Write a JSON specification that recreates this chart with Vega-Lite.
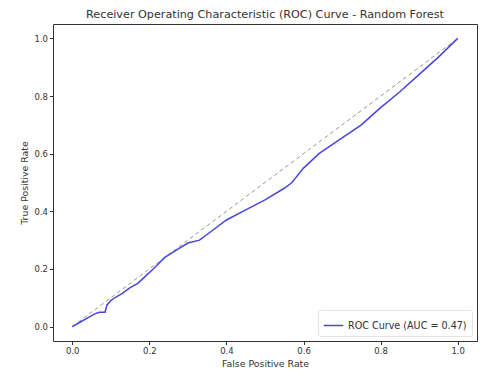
{
  "$schema": "https://vega.github.io/schema/vega-lite/v6.json",
  "width": 424,
  "height": 317,
  "autosize": {"type": "none"},
  "padding": {"left": 53, "top": 24, "right": 6, "bottom": 35},
  "background": "white",
  "config": {
    "font": "DejaVu Sans",
    "view": {"stroke": "#333333", "strokeWidth": 1},
    "axis": {"grid": false, "domain": false, "tickColor": "#333333", "tickSize": 3.5, "labelFontSize": 8.5, "labelColor": "#333333", "titleFontSize": 9.4, "titleFontWeight": "normal", "titleColor": "#333333", "labelFont": "DejaVu Sans", "titleFont": "DejaVu Sans", "titlePadding": 4}
  },
  "title": {"text": "Receiver Operating Characteristic (ROC) Curve - Random Forest", "fontSize": 11.2, "fontWeight": "normal", "color": "#333333", "offset": 4, "font": "DejaVu Sans"},
  "datasets": {
    "roc": [
      {"fpr": 0, "tpr": 0},
      {"fpr": 0.02, "tpr": 0.015},
      {"fpr": 0.04, "tpr": 0.03},
      {"fpr": 0.06, "tpr": 0.045},
      {"fpr": 0.07, "tpr": 0.05},
      {"fpr": 0.085, "tpr": 0.05},
      {"fpr": 0.09, "tpr": 0.075},
      {"fpr": 0.1, "tpr": 0.09},
      {"fpr": 0.11, "tpr": 0.1},
      {"fpr": 0.13, "tpr": 0.115},
      {"fpr": 0.15, "tpr": 0.135},
      {"fpr": 0.17, "tpr": 0.15},
      {"fpr": 0.19, "tpr": 0.175},
      {"fpr": 0.21, "tpr": 0.2},
      {"fpr": 0.24, "tpr": 0.24},
      {"fpr": 0.27, "tpr": 0.265},
      {"fpr": 0.3, "tpr": 0.29},
      {"fpr": 0.33, "tpr": 0.3},
      {"fpr": 0.36, "tpr": 0.33},
      {"fpr": 0.4, "tpr": 0.37},
      {"fpr": 0.45, "tpr": 0.405},
      {"fpr": 0.5, "tpr": 0.44},
      {"fpr": 0.55, "tpr": 0.48},
      {"fpr": 0.57, "tpr": 0.5},
      {"fpr": 0.6, "tpr": 0.55},
      {"fpr": 0.64, "tpr": 0.6},
      {"fpr": 0.7, "tpr": 0.655},
      {"fpr": 0.75, "tpr": 0.7},
      {"fpr": 0.8, "tpr": 0.76},
      {"fpr": 0.85, "tpr": 0.815},
      {"fpr": 0.9, "tpr": 0.875},
      {"fpr": 0.95, "tpr": 0.935},
      {"fpr": 1, "tpr": 1}
    ],
    "diag": [{"fpr": 0, "tpr": 0}, {"fpr": 1, "tpr": 1}]
  },
  "layer": [
    {
      "data": {"name": "diag"},
      "mark": {"type": "line", "color": "#9a9a80", "strokeDash": [4, 3], "strokeWidth": 1},
      "encoding": {
        "x": {"field": "fpr", "type": "quantitative", "scale": {"domain": [-0.05, 1.05], "nice": false, "zero": false}, "axis": {"values": [0, 0.2, 0.4, 0.6, 0.8, 1.0], "format": ".1f", "title": "False Positive Rate"}},
        "y": {"field": "tpr", "type": "quantitative", "scale": {"domain": [-0.05, 1.05], "nice": false, "zero": false}, "axis": {"values": [0, 0.2, 0.4, 0.6, 0.8, 1.0], "format": ".1f", "title": "True Positive Rate"}}
      }
    },
    {
      "data": {"name": "roc"},
      "transform": [{"calculate": "'ROC Curve (AUC = 0.47)'", "as": "series"}],
      "mark": {"type": "line", "strokeWidth": 1.5},
      "encoding": {
        "x": {"field": "fpr", "type": "quantitative"},
        "y": {"field": "tpr", "type": "quantitative"},
        "order": {"field": "fpr", "type": "quantitative"},
        "color": {"field": "series", "type": "nominal", "scale": {"range": ["#4646dc"]}, "legend": {"title": null, "orient": "bottom-right", "symbolType": "stroke", "symbolStrokeWidth": 1.5, "symbolSize": 380, "labelFontSize": 9.6, "labelColor": "#333333", "strokeColor": "#e4e4e4", "fillColor": "white", "padding": 5, "offset": 5, "cornerRadius": 2}}
      }
    }
  ]
}
